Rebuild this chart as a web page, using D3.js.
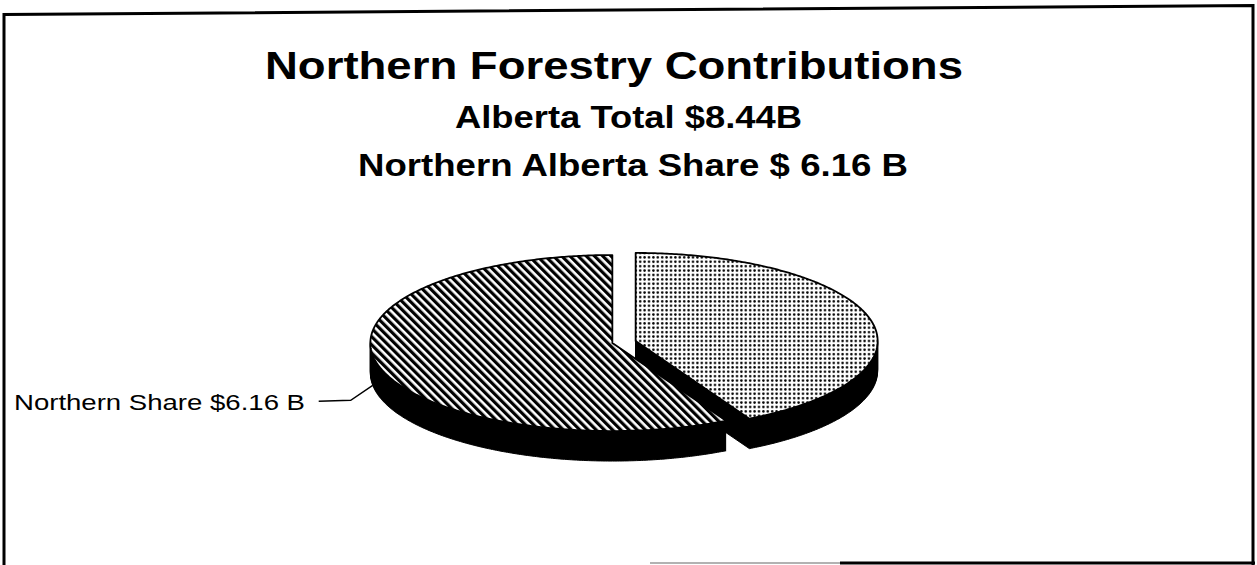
<!DOCTYPE html>
<html>
<head>
<meta charset="utf-8">
<script src="https://cdn.jsdelivr.net/npm/d3@7"></script>
<style>
  html, body { margin: 0; padding: 0; background: #fff; }
  svg { display: block; }
  text { font-family: "Liberation Sans", Arial, Helvetica, sans-serif; fill: #000; }
</style>
</head>
<body>
<svg id="chart" width="1257" height="565"></svg>
<script>
// Slice data (billions of dollars), drawn clockwise from 12 o'clock
const categories = ["Rest of Alberta", "Northern Share"];
const values = [4.5, 6.16];
const slicePatterns = ["dots", "hatch"];
const sliceLabels = [null, "Northern Share $6.16 B"];

// Heading lines
const titleText = "Northern Forestry Contributions";
const subtitleLines = ["Alberta Total $8.44B", "Northern Alberta Share $ 6.16 B"];

const W = 1257, H = 565;
const svg = d3.select("#chart");

// ---- patterns ----
const defs = svg.append("defs");
const hatch = defs.append("pattern")
  .attr("id", "hatch")
  .attr("patternUnits", "userSpaceOnUse")
  .attr("width", 5.8).attr("height", 10)
  .attr("patternTransform", "rotate(-45)");
hatch.append("rect").attr("width", 5.8).attr("height", 10).attr("fill", "#fff");
hatch.append("rect").attr("width", 3.2).attr("height", 10).attr("fill", "#000");

const dots = defs.append("pattern")
  .attr("id", "dots")
  .attr("patternUnits", "userSpaceOnUse")
  .attr("width", 4.4).attr("height", 4.4);
dots.append("rect").attr("width", 4.4).attr("height", 4.4).attr("fill", "#fff");
dots.append("circle").attr("cx", 2.2).attr("cy", 2.2).attr("r", 1.25).attr("fill", "#000");

// ---- frame ----
svg.append("path")
  .attr("d", "M4,565 L4,14.5 L1253,5.5 L1253,565")
  .attr("fill", "none").attr("stroke", "#000").attr("stroke-width", 3);
svg.append("line")
  .attr("x1", 650).attr("x2", 840).attr("y1", 563).attr("y2", 563)
  .attr("stroke", "#999").attr("stroke-width", 1.5);
svg.append("line")
  .attr("x1", 840).attr("x2", 1255).attr("y1", 563).attr("y2", 563)
  .attr("stroke", "#000").attr("stroke-width", 3);

// ---- headings (wide lettering, stretched to the set widths) ----
svg.append("text")
  .attr("x", 265).attr("y", 79)
  .attr("font-weight", "bold").attr("font-size", 38)
  .attr("textLength", 698).attr("lengthAdjust", "spacingAndGlyphs")
  .text(titleText);
const subLayout = [
  { x: 455, y: 128, w: 347 },
  { x: 358, y: 176, w: 550 }
];
subtitleLines.forEach((s, i) => {
  svg.append("text")
    .attr("x", subLayout[i].x).attr("y", subLayout[i].y)
    .attr("font-weight", "bold").attr("font-size", 31)
    .attr("textLength", subLayout[i].w).attr("lengthAdjust", "spacingAndGlyphs")
    .text(s);
});

// ---- 3D pie ----
const cx = 624, cy = 342, rx = 242, ry = 88, depth = 30, explode = 12;
const k = ry / rx;

const pie = d3.pie().sort(null).startAngle(0).endAngle(2 * Math.PI);
const arcs = pie(values);

function pointAt(a, ox, oy) {
  return [ox + rx * Math.sin(a), oy - ry * Math.cos(a)];
}
function slicePath(d, ox, oy) {
  const n = Math.max(8, Math.ceil((d.endAngle - d.startAngle) / 0.01));
  const pts = [[ox, oy]];
  for (let i = 0; i <= n; i++) {
    const a = d.startAngle + (d.endAngle - d.startAngle) * i / n;
    pts.push(pointAt(a, ox, oy));
  }
  return d3.line()(pts) + "Z";
}

const pieG = svg.append("g");
const geo = arcs.map((d, i) => {
  const mid = (d.startAngle + d.endAngle) / 2;
  return {
    d, i,
    ox: cx + explode * Math.sin(mid),
    oy: cy - explode * k * Math.cos(mid)
  };
});

geo.forEach(g => {
  const sg = pieG.append("g").attr("class", "slice " + slicePatterns[g.i]);
  // side walls: stack of black copies below the top face
  const layers = d3.range(depth, 0, -1);
  sg.selectAll("path.side")
    .data(layers)
    .join("path")
    .attr("class", "side")
    .attr("d", dy => slicePath(g.d, g.ox, g.oy + dy))
    .attr("fill", "#000")
    .attr("stroke", "#000")
    .attr("stroke-width", 1);
  // top face
  sg.append("path")
    .attr("class", "top")
    .attr("d", slicePath(g.d, g.ox, g.oy))
    .attr("fill", `url(#${slicePatterns[g.i]})`)
    .attr("stroke", "#000")
    .attr("stroke-width", 1.8)
    .attr("stroke-linejoin", "round");
});

// ---- slice label with leader ----
geo.forEach(g => {
  const label = sliceLabels[g.i];
  if (!label) return;
  const anchorAngle = 262 * Math.PI / 180;
  const [ax, ay0] = pointAt(anchorAngle, g.ox, g.oy);
  const ay = ay0 + depth;
  const leader = [[ax, ay], [ax - 22, ay + 15], [ax - 54, ay + 16]];
  svg.append("path")
    .attr("d", d3.line()(leader))
    .attr("fill", "none").attr("stroke", "#000").attr("stroke-width", 1.4);
  svg.append("text")
    .attr("x", 14).attr("y", ay + 25)
    .attr("font-size", 22)
    .attr("textLength", 291).attr("lengthAdjust", "spacingAndGlyphs")
    .text(label);
});
</script>
</body>
</html>
